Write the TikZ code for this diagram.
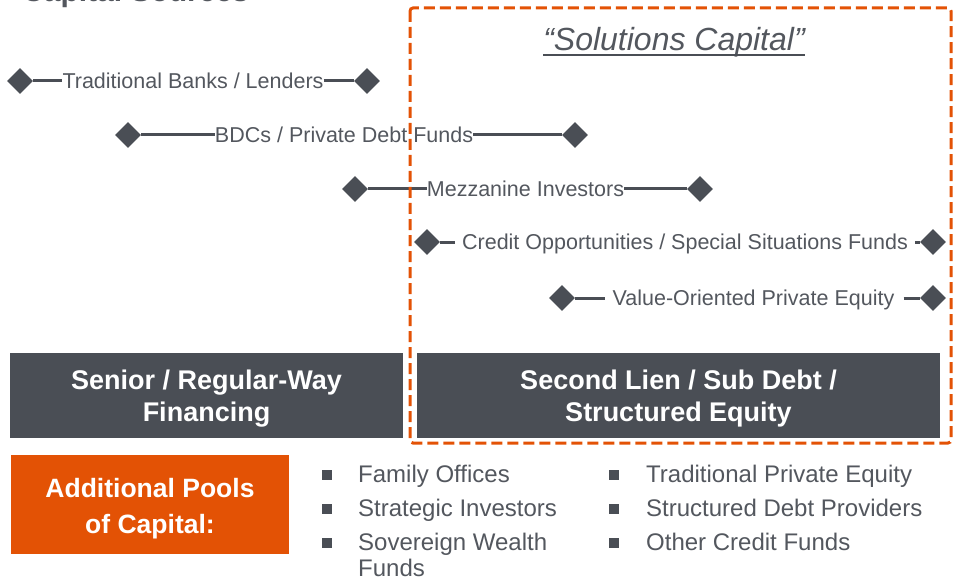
\documentclass[tikz,border=0pt]{standalone}
\usepackage{fontspec}
\setmainfont{Liberation Sans}
\usetikzlibrary{shapes.geometric}
\definecolor{dk}{HTML}{4A4E55}
\definecolor{txt}{HTML}{53575E}
\definecolor{org}{HTML}{E35205}
\begin{document}
\begin{tikzpicture}[x=1pt,y=-1pt,
  dia/.style={diamond, fill=dk, inner sep=0pt, minimum width=26pt, minimum height=26pt},
  lab/.style={inner sep=0pt, text=txt, font=\fontsize{21.5}{24}\selectfont, text height=15.4pt, text depth=0pt},
  conn/.style={draw=dk, line width=3pt},
  bar/.style={fill=dk, inner sep=0pt},
  bartxt/.style={text=white, font=\bfseries\fontsize{27}{31.5}\selectfont, align=center, inner sep=0pt},
  obar/.style={fill=org, inner sep=0pt},
  obartxt/.style={text=white, font=\bfseries\fontsize{26.5}{36}\selectfont, align=center, inner sep=0pt},
  bul/.style={fill=dk, inner sep=0pt, minimum size=10pt},
  itm/.style={inner sep=0pt, anchor=base west, text=txt, font=\fontsize{24}{28}\selectfont}]
\useasboundingbox (0,0) rectangle (958,580);
% cut-off heading
\begin{scope}
  \clip (0,0) rectangle (958,580);
  \node[inner sep=0pt, anchor=base west, text=txt, font=\bfseries\fontsize{30}{34}\selectfont] (head) at (22,1.5) {Capital Sources};
\end{scope}
% title
\node[inner sep=0pt, anchor=base, text=txt, font=\itshape\fontsize{32}{36}\selectfont] (sc) at (674,51) {“Solutions Capital”};
\draw[dk, line width=2.5pt] ([yshift=-4pt]sc.base west) -- ([yshift=-4pt]sc.base east);
% rows
\node[dia] (l1) at (20,81) {};
\node[lab] (t1) at (193,81) {Traditional Banks / Lenders};
\node[dia] (r1) at (367,81) {};
\draw[conn] (l1) -- (t1);
\draw[conn] (t1) -- (r1);
\node[dia] (l2) at (128,135) {};
\node[lab] (t2) at (344,135) {BDCs / Private Debt Funds};
\node[dia] (r2) at (575,135) {};
\draw[conn] (l2) -- (t2);
\draw[conn] (t2) -- (r2);
\node[dia] (l3) at (355,189) {};
\node[lab] (t3) at (525.5,189) {Mezzanine Investors};
\node[dia] (r3) at (700,189) {};
\draw[conn] (l3) -- (t3);
\draw[conn] (t3) -- (r3);
\node[dia] (l4) at (427,242) {};
\node[lab] (t4) at (685,242) {Credit Opportunities / Special Situations Funds};
\node[dia] (r4) at (933,242) {};
\draw[conn, shorten >=7pt] (l4) -- (t4);
\draw[conn, shorten <=7pt] (t4) -- (r4);
\node[dia] (l5) at (562,298) {};
\node[lab] (t5) at (753.5,298) {Value-Oriented Private Equity};
\node[dia] (r5) at (933,298) {};
\draw[conn, shorten >=7pt] (l5) -- (t5);
\draw[conn, shorten <=9pt] (t5) -- (r5);
% dashed frame
\draw[org, line width=3pt, dash pattern=on 11pt off 5pt, rounded corners=3pt] (410,8) rectangle (951,443);
% bars
\node[bar, minimum width=393pt, minimum height=85pt] (senior) at (206.5,395.5) {};
\node[bartxt] (seniort) at (206.5,398.5) {Senior / Regular-Way\\Financing};
\node[bar, minimum width=523pt, minimum height=85pt] (second) at (678.5,395.5) {};
\node[bartxt] (secondt) at (678.5,398.5) {Second Lien / Sub Debt /\\Structured Equity};
\node[obar, minimum width=278pt, minimum height=99pt] (pools) at (150,504.5) {};
\node[obartxt] (poolst) at (150,509) {Additional Pools\\of Capital:};
% bullets
\node[bul] (b1) at (327,475) {};
\node[itm] (i1) at (358,482) {Family Offices};
\node[bul] (b2) at (327,509) {};
\node[itm] (i2) at (358,516) {Strategic Investors};
\node[bul] (b3) at (327,543) {};
\node[itm] (i3) at (358,550) {Sovereign Wealth};
\node[itm] (i3b) at (358,576) {Funds};
\node[bul] (b4) at (614,475) {};
\node[itm] (i4) at (646,482) {Traditional Private Equity};
\node[bul] (b5) at (614,509) {};
\node[itm] (i5) at (646,516) {Structured Debt Providers};
\node[bul] (b6) at (614,543) {};
\node[itm] (i6) at (646,550) {Other Credit Funds};
\end{tikzpicture}
\end{document}
